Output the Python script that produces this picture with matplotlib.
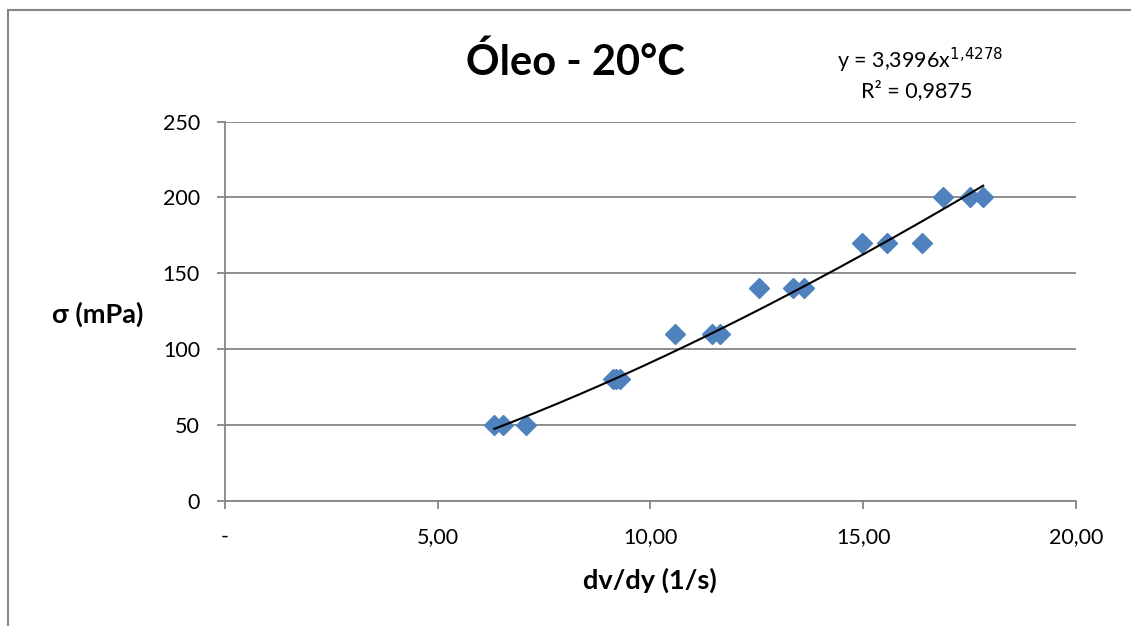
import numpy as np
import matplotlib
matplotlib.use("Agg")
import matplotlib.pyplot as plt
from matplotlib.lines import Line2D
from matplotlib.ticker import FuncFormatter

plt.rcParams['font.family'] = ['Lato', 'DejaVu Sans']

# Data
shear_rate = [6.33, 6.54, 7.08, 9.12, 9.19, 9.29, 10.58, 11.45, 11.63,
              12.56, 13.34, 13.60, 14.97, 15.55, 16.37, 16.88, 17.52, 17.82]
stress = [50, 50, 50, 80, 80, 80, 110, 110, 110,
          140, 140, 140, 170, 170, 170, 200, 200, 200]
coef_a = 3.3996
coef_b = 1.4278
r2 = 0.9875
x_ticks = [0, 5, 10, 15, 20]
y_ticks = [0, 50, 100, 150, 200, 250]

title = "Óleo - 20°C"
xlabel = "dv/dy (1/s)"
ylabel = "σ (mPa)"

W, H = 1131, 626
fig = plt.figure(figsize=(W / 100, H / 100), dpi=100)
ax = fig.add_axes([225 / W, 1 - 500.7 / H, (1076 - 225) / W, (500.7 - 121.5) / H])

grid_col = '#868686'
ax.set_xlim(0, 20)
ax.set_ylim(0, 250)
ax.set_yticks(y_ticks)
ax.set_xticks(x_ticks)
ax.yaxis.grid(True, color=grid_col, linewidth=1.3)
ax.set_axisbelow(True)
for s in ['top', 'right']:
    ax.spines[s].set_visible(False)
for s in ['left', 'bottom']:
    ax.spines[s].set_color(grid_col)
    ax.spines[s].set_linewidth(1.3)
ax.tick_params(direction='out', length=6, width=1.3, color=grid_col,
               labelsize=15.5)
ax.tick_params(axis='x', pad=13)
ax.tick_params(axis='y', pad=12)


def fmt_x(v, pos):
    if abs(v) < 1e-9:
        return '-'
    return f"{v:.2f}".replace('.', ',')


ax.xaxis.set_major_formatter(FuncFormatter(fmt_x))

ax.plot(shear_rate, stress, linestyle='none', marker='D', markersize=10.5,
        color='#4F81BD', markeredgecolor='#4F81BD', zorder=3)

xf = np.linspace(min(shear_rate), max(shear_rate), 200)
ax.plot(xf, coef_a * xf ** coef_b, color='black', linewidth=1.5, zorder=4)

fig.text(575 / W, 1 - 62 / H, title, ha='center', va='center',
         fontsize=30, fontweight='bold')
fig.text(650 / W, 1 - 580 / H, xlabel, ha='center', va='center',
         fontsize=19.5, fontweight='bold')
fig.text(98 / W, 1 - 314 / H, ylabel, ha='center', va='center',
         fontsize=19.5, fontweight='bold')

eq = "y = " + f"{coef_a:.4f}".replace('.', ',') + "x$^{" + f"{coef_b:.4f}".replace('.', '{,}') + "}$"
fig.text(920 / W, 1 - 60 / H, eq, ha='center', va='center', fontsize=15.5)
fig.text(917 / W, 1 - 91 / H, "R² = " + f"{r2:.4f}".replace('.', ','),
         ha='center', va='center', fontsize=15.5)

# Chart border (left and top)
fig.add_artist(Line2D([7.5 / W, 7.5 / W], [0, 1 - 9.5 / H], transform=fig.transFigure,
                      color=grid_col, linewidth=1.5))
fig.add_artist(Line2D([7.5 / W, 1], [1 - 9.5 / H, 1 - 9.5 / H], transform=fig.transFigure,
                      color=grid_col, linewidth=1.5))

fig.savefig("out.png", dpi=100)
